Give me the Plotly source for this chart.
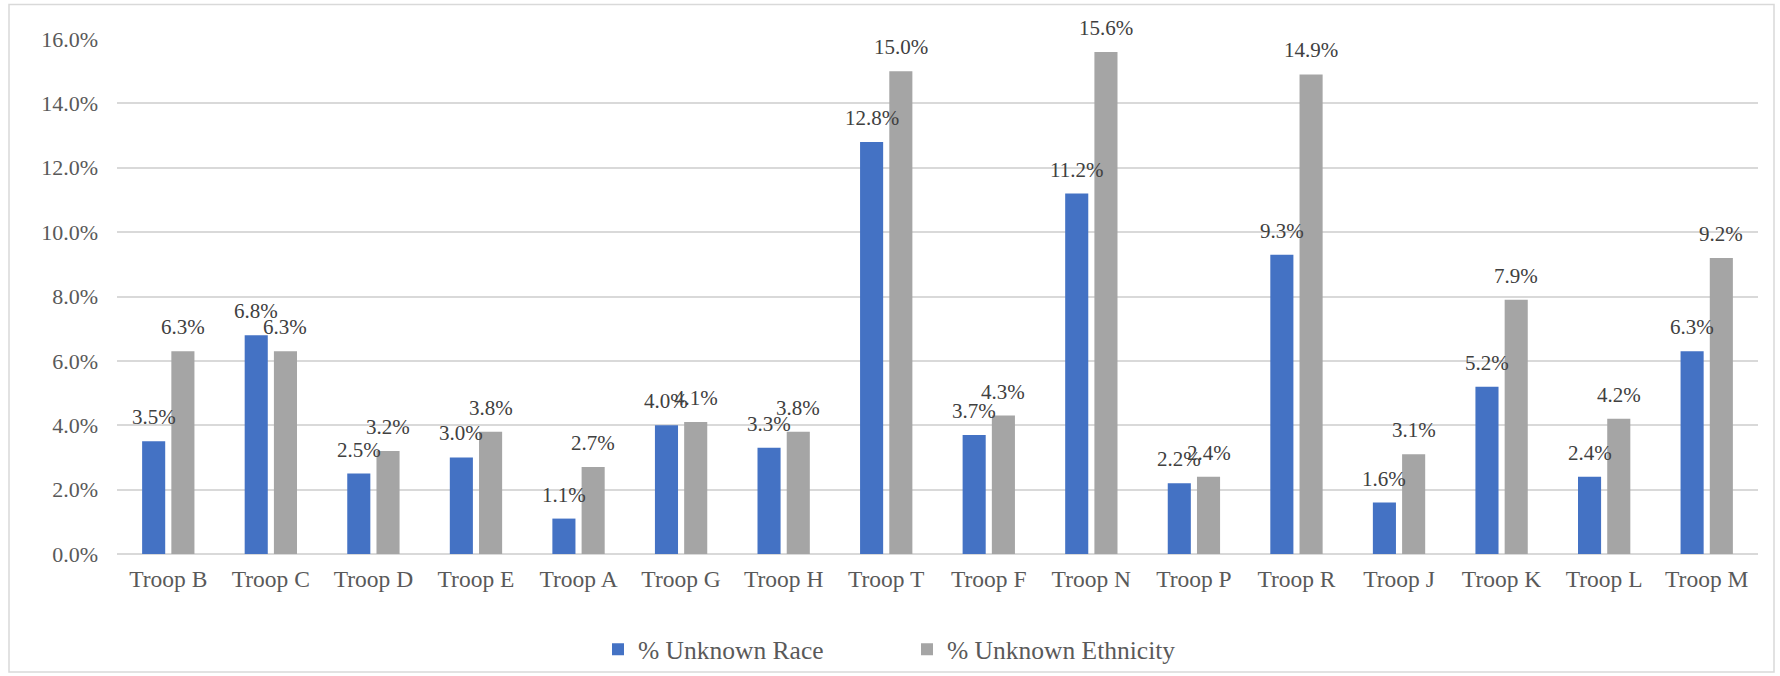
import plotly.graph_objects as go

troops = ["Troop B", "Troop C", "Troop D", "Troop E", "Troop A", "Troop G", "Troop H", "Troop T",
          "Troop F", "Troop N", "Troop P", "Troop R", "Troop J", "Troop K", "Troop L", "Troop M"]
unknown_race = [3.5, 6.8, 2.5, 3.0, 1.1, 4.0, 3.3, 12.8, 3.7, 11.2, 2.2, 9.3, 1.6, 5.2, 2.4, 6.3]
unknown_ethnicity = [6.3, 6.3, 3.2, 3.8, 2.7, 4.1, 3.8, 15.0, 4.3, 15.6, 2.4, 14.9, 3.1, 7.9, 4.2, 9.2]
y_ticks = [0, 2, 4, 6, 8, 10, 12, 14, 16]

W, H = 1780, 676
M_L, M_R, M_T, M_B = 117, 22, 39, 122
BARGAP, GROUPGAP = 0.43, 0.21
FONT = "Liberation Serif"
BLUE, GRAY = "#4472C4", "#A5A5A5"

fig = go.Figure()
fig.add_trace(go.Bar(x=troops, y=unknown_race, name="% Unknown Race",
                     marker=dict(color=BLUE, line=dict(width=0))))
fig.add_trace(go.Bar(x=troops, y=unknown_ethnicity, name="% Unknown Ethnicity",
                     marker=dict(color=GRAY, line=dict(width=0))))

# value labels above each bar, shifted to the bar's slot within the group
plot_w = W - M_L - M_R
plot_h = H - M_T - M_B
slot = plot_w / len(troops) * (1 - BARGAP) / 2
for vals, sgn in ((unknown_race, -1), (unknown_ethnicity, 1)):
    for t, v in zip(troops, vals):
        fig.add_annotation(x=t, y=v, text=f"{v:.1f}%", showarrow=False,
                           xshift=sgn * slot / 2, yshift=10, yanchor="bottom",
                           font=dict(family=FONT, size=21, color="#404040"))

# chart-area border
fig.add_shape(type="rect", xref="paper", yref="paper",
              x0=(9 - M_L) / plot_w, x1=(1774 - M_L) / plot_w,
              y0=(H - M_B - 672) / plot_h, y1=(H - M_B - 4.5) / plot_h,
              line=dict(color="#D9D9D9", width=1.5), layer="below")

fig.update_layout(
    width=W, height=H,
    margin=dict(l=M_L, r=M_R, t=M_T, b=M_B, autoexpand=False),
    paper_bgcolor="white", plot_bgcolor="white",
    barmode="group", bargap=BARGAP, bargroupgap=GROUPGAP,
    font=dict(family=FONT, color="#595959"),
    showlegend=True,
    legend=dict(orientation="h", x=(598 - M_L) / plot_w, xanchor="left",
                y=-0.186, yanchor="middle",
                bgcolor="rgba(0,0,0,0)",
                font=dict(family=FONT, size=25.5, color="#595959"),
                itemwidth=30, entrywidth=264, traceorder="normal"),
    xaxis=dict(showgrid=False, showline=False, ticks="", ticklabelstandoff=8, automargin=False,
               tickfont=dict(size=23.5, color="#595959")),
    yaxis=dict(range=[0, 16], tickvals=y_ticks, ticktext=[f"{v:.1f}%" for v in y_ticks],
               showgrid=True, gridcolor="#D9D9D9", gridwidth=2,
               zeroline=True, zerolinecolor="#D9D9D9", zerolinewidth=2,
               showline=False, ticks="", ticklabelstandoff=18, automargin=False,
               tickfont=dict(size=22, color="#595959")),
)

fig.write_html("out.html")
